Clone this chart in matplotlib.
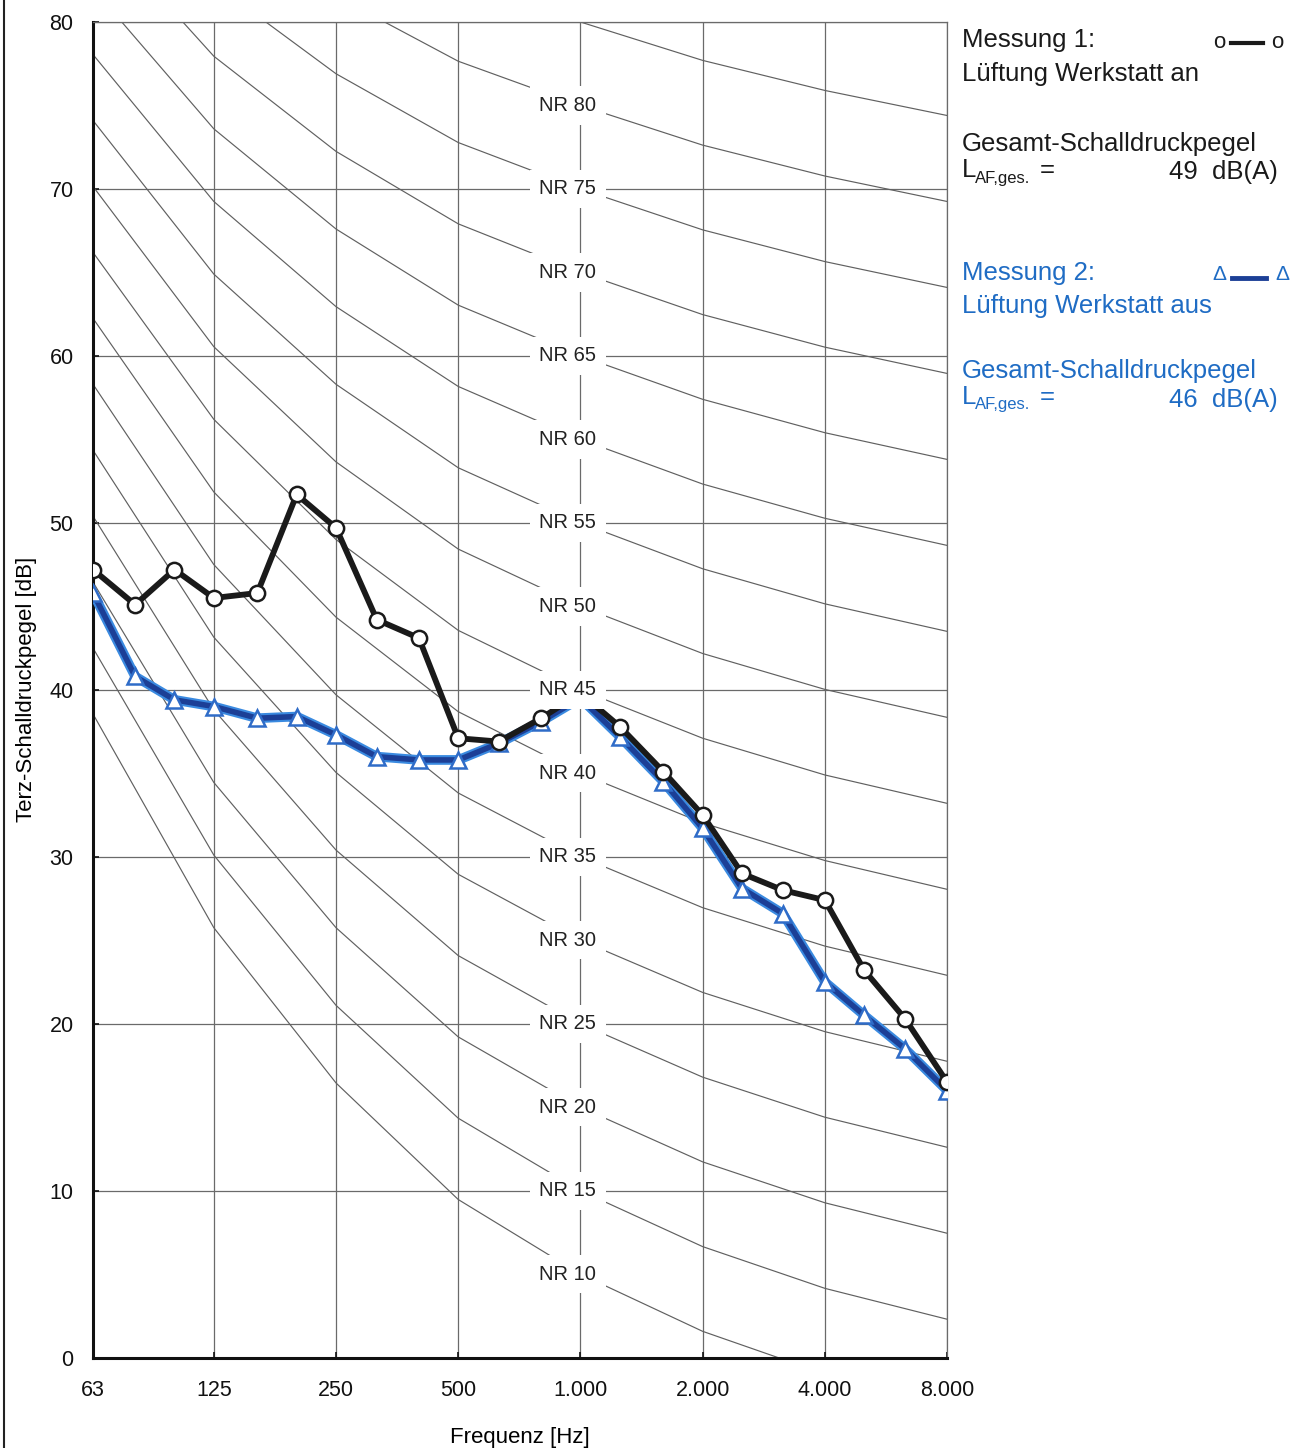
import numpy as np
import matplotlib.pyplot as plt
from matplotlib.lines import Line2D

plt.rcParams['font.family'] = ['Liberation Sans', 'DejaVu Sans']

# third-octave band centre frequencies
freqs = [63, 80, 100, 125, 160, 200, 250, 315, 400, 500, 630, 800,
         1000, 1250, 1600, 2000, 2500, 3150, 4000, 5000, 6300, 8000]

# Messung 1: Lueftung Werkstatt an
mess1 = [47.2, 45.1, 47.2, 45.5, 45.8, 51.7, 49.7, 44.2, 43.1, 37.1, 36.9, 38.3,
         39.8, 37.8, 35.1, 32.5, 29.0, 28.0, 27.4, 23.2, 20.3, 16.5]
# Messung 2: Lueftung Werkstatt aus
mess2 = [45.8, 40.8, 39.4, 39.0, 38.3, 38.4, 37.3, 36.0, 35.8, 35.8, 36.8, 38.1,
         39.5, 37.2, 34.5, 31.7, 28.1, 26.6, 22.5, 20.5, 18.5, 16.0]

# NR curve coefficients per octave band: L = a + b * NR
nr_freqs = [63, 125, 250, 500, 1000, 2000, 4000, 8000]
nr_a = [34.6, 21.4, 11.8, 4.6, 0.0, -3.5, -6.1, -8.0]
nr_b = [0.790, 0.870, 0.930, 0.974, 1.000, 1.015, 1.025, 1.030]
nr_levels = list(range(5, 85, 5))
nr_labels = ["NR 10", "NR 15", "NR 20", "NR 25", "NR 30", "NR 35", "NR 40", "NR 45",
             "NR 50", "NR 55", "NR 60", "NR 65", "NR 70", "NR 75", "NR 80"]
nr_label_levels = list(range(5, 80, 5))

oct_ticks = [63, 125, 250, 500, 1000, 2000, 4000, 8000]
oct_ticklabels = ["63", "125", "250", "500", "1.000", "2.000", "4.000", "8.000"]

blue_text = '#1f6cc4'
dark = '#1a1a1a'

fig = plt.figure(figsize=(13.01, 14.48), dpi=100)
ax = fig.add_axes([0.0715, 0.0624, 0.6565, 0.9224])

ax.set_xscale('log')
ax.set_xlim(63, 8000)
ax.set_ylim(0, 80)

# grid
for f in oct_ticks:
    ax.axvline(f, color='#6a6a6a', lw=0.9, zorder=1)
for yv in range(10, 90, 10):
    ax.axhline(yv, color='#6a6a6a', lw=0.9, zorder=1)

# NR curves
a = np.array(nr_a)
b = np.array(nr_b)
for nr in nr_levels:
    ax.plot(nr_freqs, a + b * nr, color='#606060', lw=0.85, zorder=2)

# NR labels (white box hides curve and grid)
for lab, lev in zip(nr_labels, nr_label_levels):
    ax.text(930, lev, lab, ha='center', va='center', fontsize=14.5, color='#222222',
            zorder=6, bbox=dict(facecolor='white', edgecolor='none', pad=7))

# measurement 1
ax.plot(freqs, mess1, color=dark, lw=4.2, marker='o', ms=11,
        mfc='white', mec=dark, mew=1.8, zorder=4)
# measurement 2
ax.plot(freqs, mess2, color='#3a8ae0', lw=7, zorder=3, solid_capstyle='round')
ax.plot(freqs, mess2, color='#1c3f96', lw=4, marker='^', ms=11,
        mfc='white', mec='#2f6cc8', mew=1.8, zorder=3.5)

ax.set_xticks(oct_ticks)
ax.set_xticklabels(oct_ticklabels)
ax.minorticks_off()
ax.set_yticks(range(0, 90, 10))
ax.tick_params(axis='both', labelsize=15.5, length=4, width=1.2, direction='in', pad=14,
               colors='#111111')
ax.tick_params(axis='x', pad=16)

for side in ['top', 'right']:
    ax.spines[side].set_color('#6a6a6a')
    ax.spines[side].set_linewidth(0.9)
for side in ['left', 'bottom']:
    ax.spines[side].set_color('#111111')
    ax.spines[side].set_linewidth(2.2)

ax.set_xlabel("Frequenz [Hz]", fontsize=16)
ax.xaxis.set_label_coords(0.5, -0.052)
ax.set_ylabel("Terz-Schalldruckpegel [dB]", fontsize=16)
ax.yaxis.set_label_coords(-0.066, 0.5)

# legend / text block on the right
fs = 18.5
x0 = 962 / 1301
xr = 1278 / 1301


def fy(p):
    return 1 - p / 1448


def l_af(y, color):
    fig.text(x0, fy(y), "L", fontsize=fs, va='center', color=color)
    fig.text(x0 + 13 / 1301, fy(y + 8), "AF,ges.", fontsize=12, va='center', color=color)
    fig.text(x0 + 78 / 1301, fy(y), "=", fontsize=fs, va='center', color=color)


fig.text(x0, fy(40), "Messung 1:", fontsize=fs, va='center', color=dark)
fig.text(x0, fy(74), "Lüftung Werkstatt an", fontsize=fs, va='center', color=dark)
fig.text(x0, fy(144), "Gesamt-Schalldruckpegel", fontsize=fs, va='center', color=dark)
l_af(170, dark)
fig.text(xr, fy(172), "49  dB(A)", fontsize=fs, va='center', ha='right', color=dark)

fig.text(x0, fy(273), "Messung 2:", fontsize=fs, va='center', color=blue_text)
fig.text(x0, fy(306), "Lüftung Werkstatt aus", fontsize=fs, va='center', color=blue_text)
fig.text(x0, fy(371), "Gesamt-Schalldruckpegel", fontsize=fs, va='center', color=blue_text)
l_af(397, blue_text)
fig.text(xr, fy(400), "46  dB(A)", fontsize=fs, va='center', ha='right', color=blue_text)

# legend symbols
fig.add_artist(Line2D([1231 / 1301, 1263 / 1301], [fy(43), fy(43)], color=dark, lw=3))
fig.text(1219 / 1301, fy(42), "o", fontsize=16, va='center', ha='center', color=dark)
fig.text(1277 / 1301, fy(42), "o", fontsize=16, va='center', ha='center', color=dark)
fig.add_artist(Line2D([1232 / 1301, 1266 / 1301], [fy(278), fy(278)], color='#1c3f96', lw=3.5))
fig.text(1219 / 1301, fy(274), "Δ", fontsize=15, va='center', ha='center', color=blue_text)
fig.text(1282 / 1301, fy(274), "Δ", fontsize=15, va='center', ha='center', color=blue_text)

# frame line at the left edge
fig.add_artist(Line2D([4 / 1301, 4 / 1301], [0, 1], color='#222222', lw=1.5))

fig.savefig("out.png", dpi=100, facecolor='white')
